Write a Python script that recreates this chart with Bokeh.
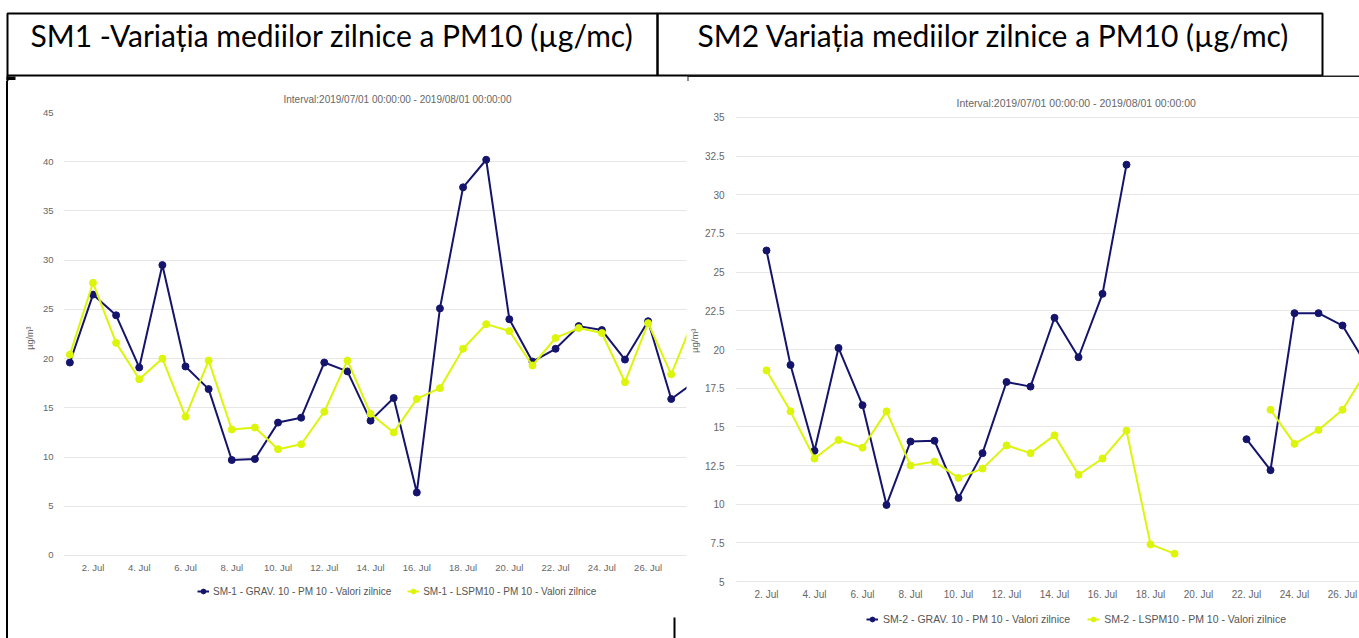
import numpy as np
import pandas as pd
from bokeh.plotting import figure
from bokeh.models import (Range1d, BoxAnnotation, Label, Legend, LegendItem,
                          DatetimeTickFormatter, DaysTicker, FixedTicker,
                          NumeralTickFormatter, Title, Spacer)
from bokeh.layouts import column, row
from bokeh.embed import file_html
from bokeh.resources import INLINE

nan = float("nan")

# ---------------- data ----------------
header_titles = ["SM1 -Variația mediilor zilnice a PM10 (µg/mc)",
                 "SM2 Variația mediilor zilnice a PM10 (µg/mc)"]
interval_text = "Interval:2019/07/01 00:00:00 - 2019/08/01 00:00:00"
y_unit = "µg/m³"

sm1_days = list(range(1, 29))
sm1_grav = [19.6, 26.5, 24.4, 19.1, 29.5, 19.2, 16.9, 9.7, 9.8, 13.5, 14.0, 19.6, 18.7, 13.7,
            16.0, 6.4, 25.1, 37.4, 40.2, 24.0, 19.7, 21.0, 23.3, 22.9, 19.9, 23.8, 15.9, 17.6]
sm1_lspm = [20.4, 27.7, 21.6, 17.9, 20.0, 14.1, 19.8, 12.8, 13.0, 10.8, 11.3, 14.6, 19.8, 14.4,
            12.5, 15.9, 17.0, 21.0, 23.5, 22.8, 19.3, 22.1, 23.1, 22.6, 17.6, 23.6, 18.4, 24.2]
sm1_legend = ["SM-1 - GRAV. 10 - PM 10 - Valori zilnice",
              "SM-1 - LSPM10 - PM 10 - Valori zilnice"]
sm1_yticks = [0, 5, 10, 15, 20, 25, 30, 35, 40, 45]

sm2_days = list(range(1, 28))
sm2_grav = [nan, 26.4, 19.0, 13.45, 20.1, 16.4, 9.95, 14.05, 14.1, 10.4, 13.3, 17.9, 17.6, 22.05,
            19.5, 23.6, 31.95, nan, nan, nan, nan, 14.2, 12.2, 22.35, 22.35, 21.55, 19.0]
sm2_lspm = [nan, 18.65, 16.0, 12.95, 14.15, 13.65, 16.0, 12.5, 12.75, 11.7, 12.3, 13.8, 13.3, 14.45,
            11.9, 12.95, 14.75, 7.4, 6.8, nan, nan, nan, 16.1, 13.9, 14.8, 16.1, 18.6]
sm2_legend = ["SM-2 - GRAV. 10 - PM 10 - Valori zilnice",
              "SM-2 - LSPM10 - PM 10 - Valori zilnice"]
sm2_yticks = [5, 7.5, 10, 12.5, 15, 17.5, 20, 22.5, 25, 27.5, 30, 32.5, 35]

x_tick_days = list(range(2, 32, 2))

NAVY = "#14146c"
LIME = "#dcf50a"
GRID = "#e6e6e6"
TXT = "#666666"
FONT = "Liberation Sans"

base = pd.Timestamp("2019-07-01")
CH_H = 557  # height of the chart row


def to_dates(days):
    return [base + pd.Timedelta(days=d - 1) for d in days]


def box(left, right, top, bottom, color="black", units="data"):
    return BoxAnnotation(left=left, right=right, top=top, bottom=bottom,
                         left_units=units, right_units=units,
                         top_units=units, bottom_units=units,
                         fill_color=color, fill_alpha=1, line_color=None)


def make_chart(days, grav, lspm, labels, yticks, width, border_left, border_right,
               xr, yr, axis_at, fs, title_offset, title_standoff, legend_loc,
               legend_glyph, legend_standoff, legend_spacing,
               label_standoff, unit_valign, unit_standoff, unit_offset):
    p = figure(width=width, height=CH_H, x_axis_type="datetime",
               x_range=Range1d(base + pd.Timedelta(days=xr[0]), base + pd.Timedelta(days=xr[1])),
               y_range=Range1d(yr[0], yr[1]),
               output_backend="svg", toolbar_location=None, tools="",
               min_border_left=border_left, min_border_right=border_right,
               min_border_top=31, min_border_bottom=0,
               outline_line_color=None, background_fill_color="white",
               border_fill_color="white")
    p.title = Title(text=interval_text, align="left", offset=title_offset,
                    standoff=title_standoff, text_font=FONT, text_font_size=fs["title"],
                    text_font_style="normal", text_color=TXT)
    dates = to_dates(days)
    g = np.array(grav, dtype=float)
    l = np.array(lspm, dtype=float)
    r1 = p.line(dates, g, line_color=NAVY, line_width=2)
    s1 = p.scatter(dates, g, size=7, fill_color=NAVY, line_color=NAVY)
    r2 = p.line(dates, l, line_color=LIME, line_width=2)
    s2 = p.scatter(dates, l, size=7, fill_color=LIME, line_color=LIME)

    p.xgrid.visible = False
    p.ygrid.ticker = FixedTicker(ticks=yticks)
    p.ygrid.grid_line_color = GRID
    p.ygrid.grid_line_width = 1

    ya = p.yaxis[0]
    ya.ticker = FixedTicker(ticks=yticks)
    ya.formatter = NumeralTickFormatter(format="0.[0]")
    ya.axis_line_color = None
    ya.major_tick_line_color = None
    ya.minor_tick_line_color = None
    ya.major_tick_out = 0
    ya.major_tick_in = 0
    ya.major_label_standoff = label_standoff
    ya.major_label_text_font = FONT
    ya.major_label_text_font_size = fs["tick"]
    ya.major_label_text_color = TXT

    # unit label of the value axis, placed beside the axis labels
    p.add_layout(Title(text=y_unit, align="right", offset=unit_offset,
                       vertical_align=unit_valign, standoff=unit_standoff,
                       text_font=FONT, text_font_size=fs["unit"],
                       text_font_style="normal", text_color=TXT), "left")

    xa = p.xaxis[0]
    xa.fixed_location = axis_at
    xa.ticker = DaysTicker(days=x_tick_days)
    xa.formatter = DatetimeTickFormatter(days="%-d. %b", months="%-d. %b")
    xa.axis_line_color = None
    xa.major_tick_line_color = None
    xa.minor_tick_line_color = None
    xa.major_tick_out = 0
    xa.major_tick_in = 0
    xa.major_label_standoff = 7
    xa.major_label_text_font = FONT
    xa.major_label_text_font_size = fs["tick"]
    xa.major_label_text_color = TXT

    legend = Legend(items=[LegendItem(label=labels[0], renderers=[r1, s1]),
                           LegendItem(label=labels[1], renderers=[r2, s2])],
                    location=legend_loc, orientation="horizontal",
                    glyph_width=legend_glyph, glyph_height=12,
                    label_standoff=legend_standoff, spacing=legend_spacing,
                    padding=0, margin=0, border_line_color=None,
                    background_fill_alpha=0, label_text_font=FONT,
                    label_text_font_size=fs["legend"], label_text_color="#555555",
                    label_height=12)
    p.add_layout(legend, "center")
    return p


# ---------------- header (table) ----------------
HW, HH = 1359, 81
header = figure(width=HW, height=HH, x_range=Range1d(0, HW), y_range=Range1d(HH, 0),
                x_axis_type=None, y_axis_type=None, min_border=0,
                outline_line_color=None, toolbar_location=None, tools="",
                output_backend="svg")
for l_, r_ in [(7, 657), (657, 1322)]:
    header.add_layout(BoxAnnotation(left=l_, right=r_, top=13, bottom=75, fill_alpha=0,
                                    line_color="black", line_alpha=1, line_width=2))
header.add_layout(box(687, 1359, 75, 76.5, color="#222222"))   # top edge of right chart image
header.add_layout(box(687, 688, 76, 81, color="#222222"))      # small corner tick
header.add_layout(box(6, 15, 76, 79.5))                         # corner mark of left chart
header.add_layout(box(6, 8, 75, 81))                            # left border continues
header.add_layout(Label(x=30, y=34, text=header_titles[0], text_font="Lato",
                        text_font_size="30px", text_baseline="middle", text_color="black"))
header.add_layout(Label(x=697, y=34, text=header_titles[1], text_font="Lato",
                        text_font_size="30px", text_baseline="middle", text_color="black"))

# ---------------- charts ----------------
fs_left = {"title": "10px", "tick": "9.5px", "unit": "9px", "legend": "10px"}
fs_right = {"title": "10.5px", "tick": "10px", "unit": "9.5px", "legend": "10.5px"}

left = make_chart(sm1_days, sm1_grav, sm1_lspm, sm1_legend, sm1_yticks,
                  width=679, border_left=55, border_right=1,
                  xr=(-0.275, 26.66), yr=(-8.432, 45), axis_at=0, fs=fs_left,
                  title_offset=220, title_standoff=16, legend_loc=(134, 41),
                  legend_glyph=12, legend_standoff=4, legend_spacing=16,
                  label_standoff=10, unit_valign="bottom", unit_standoff=10,
                  unit_offset=214)
left.add_layout(box(665, 667, 536, 557, units="canvas"))   # stray table line at the bottom

right = make_chart(sm2_days, sm2_grav, sm2_lspm, sm2_legend, sm2_yticks,
                   width=672, border_left=48, border_right=0,
                   xr=(-0.2917, 25.708), yr=(1.315, 35.323), axis_at=5, fs=fs_right,
                   title_offset=221, title_standoff=8, legend_loc=(131, 13),
                   legend_glyph=12, legend_standoff=5, legend_spacing=17,
                   label_standoff=11, unit_valign="top", unit_standoff=2,
                   unit_offset=216)

gap = Spacer(width=6, height=CH_H)
border = Spacer(width=2, height=CH_H, styles={"background-color": "black"})

layout = column(header, row(gap, border, left, right))

open("out.html", "w").write(file_html(layout, INLINE))
